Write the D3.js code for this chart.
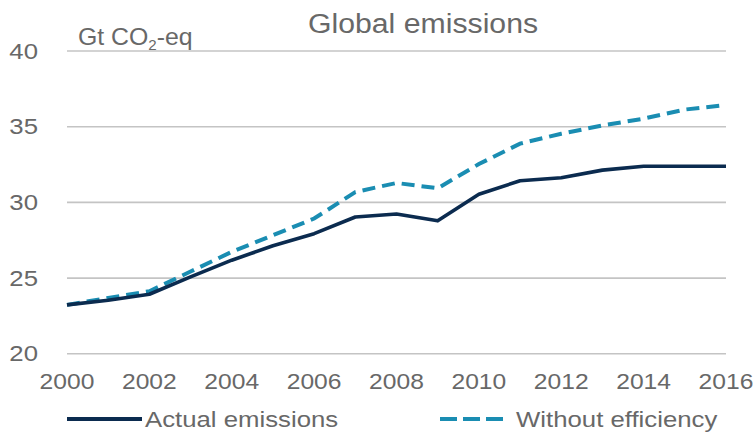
<!DOCTYPE html>
<html>
<head>
<meta charset="utf-8">
<script src="https://cdn.jsdelivr.net/npm/d3@7"></script>
<style>
  html, body { margin: 0; padding: 0; background: #fff; }
  svg { display: block; font-family: "Liberation Sans", Arial, sans-serif; }
</style>
</head>
<body>
<svg id="chart" width="756" height="432"></svg>
<script>
const years = [2000, 2001, 2002, 2003, 2004, 2005, 2006, 2007, 2008, 2009, 2010, 2011, 2012, 2013, 2014, 2015, 2016];
const actualEmissions = [23.2, 23.5, 23.9, 25.05, 26.15, 27.1, 27.9, 29.0, 29.2, 28.75, 30.5, 31.4, 31.6, 32.1, 32.35, 32.35, 32.35];
const withoutEfficiency = [23.2, 23.65, 24.1, 25.4, 26.7, 27.8, 28.9, 30.65, 31.25, 30.9, 32.5, 33.85, 34.5, 35.05, 35.5, 36.1, 36.4];
const yTicks = [20, 25, 30, 35, 40];
const xTicks = [2000, 2002, 2004, 2006, 2008, 2010, 2012, 2014, 2016];
const seriesNames = ["Actual emissions", "Without efficiency"];
const titleText = "Global emissions";

const svg = d3.select("#chart");
const textColor = "#686868";
const stretch = 1.12;

const x = d3.scaleLinear().domain([2000, 2016]).range([67, 726]);
const y = d3.scaleLinear().domain([20, 40]).range([353.3, 50.5]);

function stretchedText(px, py, anchor, size, str) {
  const g = svg.append("g").attr("transform", `translate(${px},${py}) scale(${stretch},1)`);
  return g.append("text")
    .attr("text-anchor", anchor)
    .attr("font-size", size)
    .attr("fill", textColor)
    .text(str);
}

// gridlines
const yAxis = d3.axisLeft(y).tickValues(yTicks).tickSize(-(726 - 67)).tickFormat("");
const gy = svg.append("g").attr("transform", "translate(67,0)").call(yAxis);
gy.select(".domain").remove();
gy.selectAll(".tick line").attr("stroke", "#c4c4c4").attr("stroke-width", 1.6);

// y labels
yTicks.forEach(t => {
  stretchedText(38, y(t) + 8, "end", 23, String(t));
});

// x labels
xTicks.forEach(t => {
  stretchedText(x(t), 389, "middle", 22, String(t));
});

// title
stretchedText(423, 33, "middle", 27, titleText);

// unit label with subscript
{
  const g = svg.append("g").attr("transform", `translate(78,45) scale(1.08,1)`);
  const t = g.append("text").attr("font-size", 23).attr("fill", textColor);
  t.append("tspan").text("Gt CO");
  t.append("tspan").attr("font-size", 14).attr("dy", 5).text("2");
  t.append("tspan").attr("dy", -5).text("-eq");
}

const line = d3.line().x((d, i) => x(years[i])).y(d => y(d));

svg.append("path")
  .datum(withoutEfficiency)
  .attr("fill", "none")
  .attr("stroke", "#1a8db2")
  .attr("stroke-width", 4)
  .attr("stroke-dasharray", "13,7")
  .attr("d", line);

svg.append("path")
  .datum(actualEmissions)
  .attr("fill", "none")
  .attr("stroke", "#0b2b4f")
  .attr("stroke-width", 3.6)
  .attr("stroke-linejoin", "round")
  .attr("d", line);

// legend
svg.append("line").attr("x1", 67).attr("x2", 142).attr("y1", 419).attr("y2", 419)
  .attr("stroke", "#0b2b4f").attr("stroke-width", 4);
stretchedText(145, 427, "start", 23, seriesNames[0]);

svg.append("line").attr("x1", 440).attr("x2", 503).attr("y1", 419).attr("y2", 419)
  .attr("stroke", "#1a8db2").attr("stroke-width", 4).attr("stroke-dasharray", "17,6");
stretchedText(516, 427, "start", 23, seriesNames[1]);
</script>
</body>
</html>
